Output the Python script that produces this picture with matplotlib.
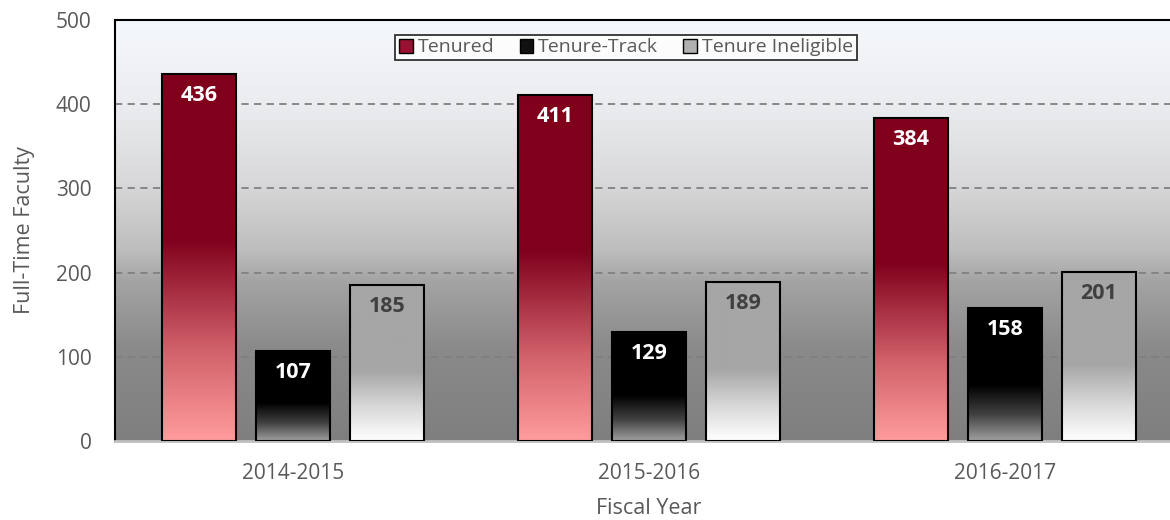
import numpy as np
import matplotlib
matplotlib.use("Agg")
import matplotlib.pyplot as plt
from matplotlib.colors import LinearSegmentedColormap
from matplotlib.patches import Patch

plt.rcParams['font.family'] = ['Open Sans', 'DejaVu Sans']

years = ['2014-2015', '2015-2016', '2016-2017']
series = ['Tenured', 'Tenure-Track', 'Tenure Ineligible']
tenured = [436, 411, 384]
tenure_track = [107, 129, 158]
ineligible = [185, 189, 201]

# gradient maps go bottom (0) -> top (1) of each bar
cmaps = [
    LinearSegmentedColormap.from_list('ten', [(0, '#FF9C9C'), (0.25, '#D0606A'), (0.55, '#80001C'), (1, '#80001C')]),
    LinearSegmentedColormap.from_list('tt', [(0, '#A0A0A0'), (0.2, '#404040'), (0.42, '#000000'), (1, '#000000')]),
    LinearSegmentedColormap.from_list('ti', [(0, '#FFFFFF'), (0.22, '#D8D8D8'), (0.45, '#A6A6A6'), (1, '#A6A6A6')]),
]
legend_cols = ['#9A1030', '#111111', '#B0B0B0']
label_cols = ['white', 'white', '#404040']
bg = LinearSegmentedColormap.from_list('bg', [(0, '#7F7F7F'), (0.22, '#8A8A8A'), (0.38, '#A4A4A4'),
                                              (0.45, '#BDBDBD'), (0.62, '#D9D9DB'), (0.8, '#EAECEF'),
                                              (1, '#F6F9FC')])

fig = plt.figure(figsize=(11.7, 5.2), dpi=100)
ax = fig.add_axes([115 / 1170, 1 - 441 / 520, 1068 / 1170, 421 / 520])

# background gradient
grad = np.linspace(0, 1, 256).reshape(-1, 1)
ax.imshow(grad, cmap=bg, origin='lower', aspect='auto', extent=(-0.5, 2.5, 0, 500), zorder=0)

ax.yaxis.grid(True, linestyle=(0, (4, 3)), color='#808080', linewidth=1.3, zorder=1)
ax.set_axisbelow(True)

x = np.arange(len(years))
width = 0.21
step = 0.264
for i, vals in enumerate([tenured, tenure_track, ineligible]):
    pos = x + (i - 1) * step
    bars = ax.bar(pos, vals, width, facecolor='none', edgecolor='black', linewidth=1.5, zorder=3)
    for b, v in zip(bars, vals):
        x0 = b.get_x()
        im = ax.imshow(grad, cmap=cmaps[i], origin='lower', aspect='auto',
                       extent=(x0, x0 + width, 0, v), zorder=2)
        im.set_clip_path(b)
        ax.text(b.get_x() + width / 2, v - 13, str(v), ha='center', va='top',
                color=label_cols[i], fontsize=15.5, fontweight='bold', zorder=4)

ax.set_xlim(-0.5, 2.5)
ax.set_ylim(0, 500)
ax.set_xticks(x)
ax.set_xticklabels(years)
ax.set_yticks(range(0, 501, 100))
ax.tick_params(length=0, labelsize=15, colors='#595959', pad=16)
ax.tick_params(axis='y', pad=17)
ax.set_xlabel('Fiscal Year', fontsize=15.5, color='#595959', labelpad=10)
ax.set_ylabel('Full-Time Faculty', fontsize=15.5, color='#595959', labelpad=15)

for s in ['left', 'top']:
    ax.spines[s].set_color('black')
    ax.spines[s].set_linewidth(1.5)
ax.spines['right'].set_visible(False)
ax.spines['bottom'].set_color('#BFBFBF')
ax.spines['bottom'].set_linewidth(2)

handles = [Patch(facecolor=c, edgecolor='black', label=s) for c, s in zip(legend_cols, series)]
leg = fig.legend(handles=handles, loc='center', bbox_to_anchor=(626 / 1170, 1 - 47.5 / 520), ncol=3,
                 frameon=True, fancybox=False, edgecolor='black', fontsize=14,
                 handlelength=0.7, handleheight=0.7, handletextpad=0.25, columnspacing=1.3,
                 borderpad=0.2, borderaxespad=0)
leg.get_frame().set_linewidth(1.3)
for t in leg.get_texts():
    t.set_color('#595959')

fig.savefig('out.png', dpi=100)
